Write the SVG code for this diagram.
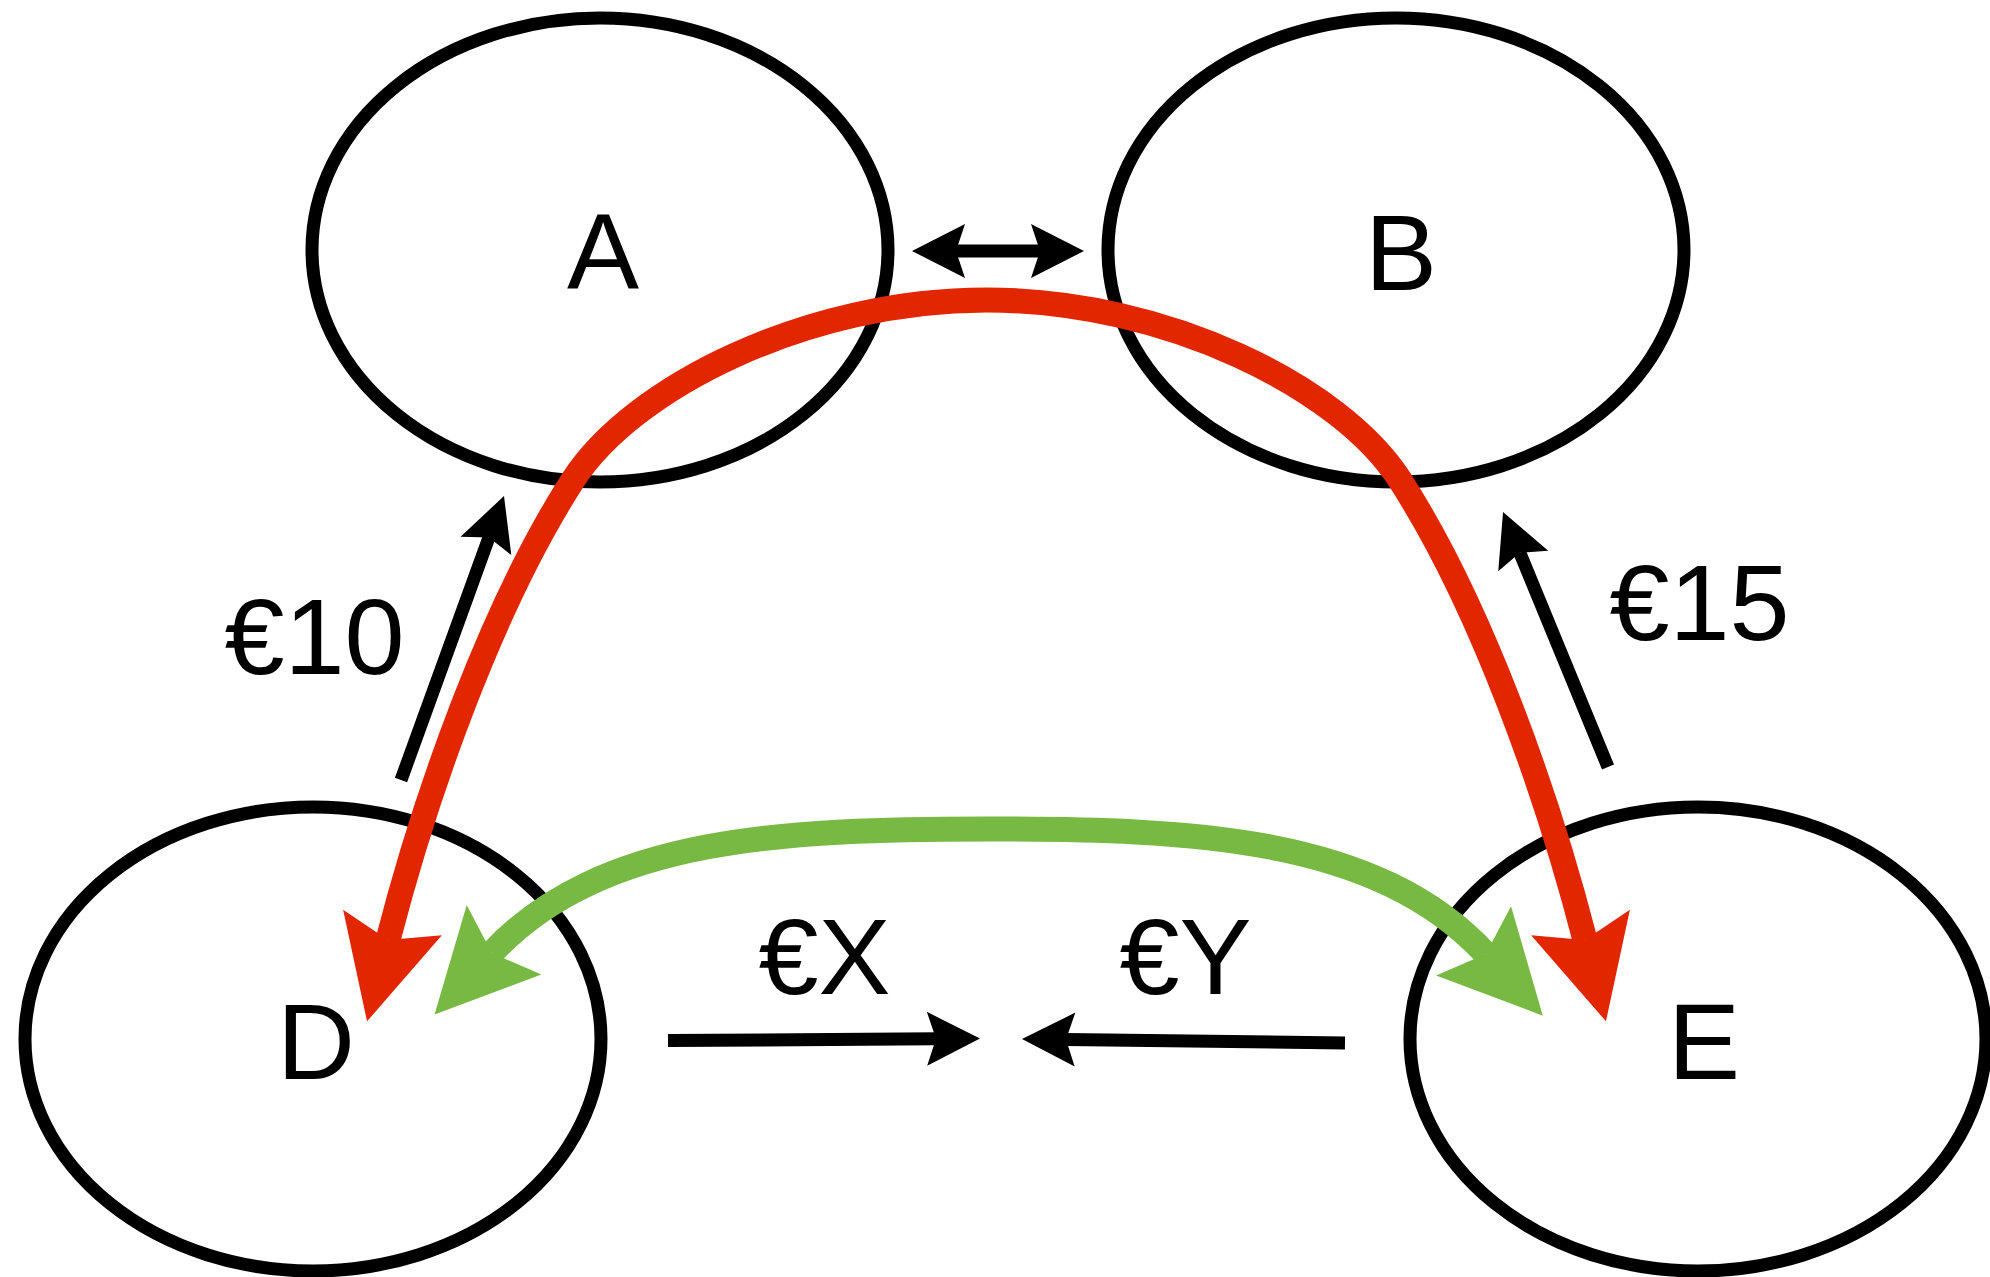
<svg xmlns="http://www.w3.org/2000/svg" width="1990" height="1277" viewBox="0 0 1990 1277">
  <style>
    .node { fill: none; stroke: #000; stroke-width: 13; }
    .lbl { font-family: "Liberation Sans", Arial, sans-serif; font-size: 108px; fill: #000; text-anchor: middle; }
    .blk { fill: none; stroke: #000; stroke-width: 13; }
    .red { fill: none; stroke: #E22600; stroke-width: 25; }
    .grn { fill: none; stroke: #77B942; stroke-width: 25; }
  </style>
  <defs>
    <marker id="hk" markerUnits="userSpaceOnUse" markerWidth="10" markerHeight="10" refX="0" refY="0" orient="auto-start-reverse" overflow="visible">
      <path d="M44,0 L-9,-27 L0,0 L-9,27 Z" fill="#000"/>
    </marker>
    <marker id="hr" markerUnits="userSpaceOnUse" markerWidth="10" markerHeight="10" refX="0" refY="0" orient="auto-start-reverse" overflow="visible">
      <path d="M84,0 L-18,-51 L0,0 L-18,51 Z" fill="#E22600"/>
    </marker>
    <marker id="hg" markerUnits="userSpaceOnUse" markerWidth="10" markerHeight="10" refX="0" refY="0" orient="auto-start-reverse" overflow="visible">
      <path d="M84,0 L-18,-51 L0,0 L-18,51 Z" fill="#77B942"/>
    </marker>
  </defs>
  <rect x="0" y="0" width="1990" height="1277" fill="#fff"/>

  <g id="node-A">
    <ellipse class="node" cx="600" cy="250" rx="288" ry="232"/>
    <text class="lbl" x="603" y="289">A</text>
  </g>
  <g id="node-B">
    <ellipse class="node" cx="1396" cy="250" rx="288" ry="232"/>
    <text class="lbl" x="1401" y="290">B</text>
  </g>
  <g id="node-D">
    <ellipse class="node" cx="313" cy="1039" rx="288" ry="232"/>
    <text class="lbl" x="316" y="1079">D</text>
  </g>
  <g id="node-E">
    <ellipse class="node" cx="1698" cy="1039" rx="288" ry="232"/>
    <text class="lbl" x="1704" y="1079">E</text>
  </g>

  <g id="connectors">
    <path class="blk" d="M956,251 H1040" marker-start="url(#hk)" marker-end="url(#hk)"/>
    <path class="blk" d="M401,780 L489,537.4" marker-end="url(#hk)"/>
    <path class="blk" d="M1608,767 L1519.8,552.7" marker-end="url(#hk)"/>
    <path class="blk" d="M668,1040.5 L936,1038.8" marker-end="url(#hk)"/>
    <path class="blk" d="M1345,1043 L1066,1039.5" marker-end="url(#hk)"/>
    <path class="grn" d="M491.8,953 C600.9,835.9 788.8,829 988.8,829 C1188.8,829 1376.7,835.9 1485.8,954" marker-start="url(#hg)" marker-end="url(#hg)"/>
    <path class="red" d="M388,940 C425.5,794.5 491.7,606 573,480 C632.6,387.6 806.5,300 986.5,300 C1166.5,300 1340.4,387.6 1400,480 C1481.3,606 1547.5,794.5 1585,940" marker-start="url(#hr)" marker-end="url(#hr)"/>
    <text class="lbl" x="314.5" y="674">€10</text>
    <text class="lbl" x="1699.5" y="640">€15</text>
    <text class="lbl" x="824.5" y="994">€X</text>
    <text class="lbl" x="1185.5" y="994">€Y</text>
  </g>
</svg>
